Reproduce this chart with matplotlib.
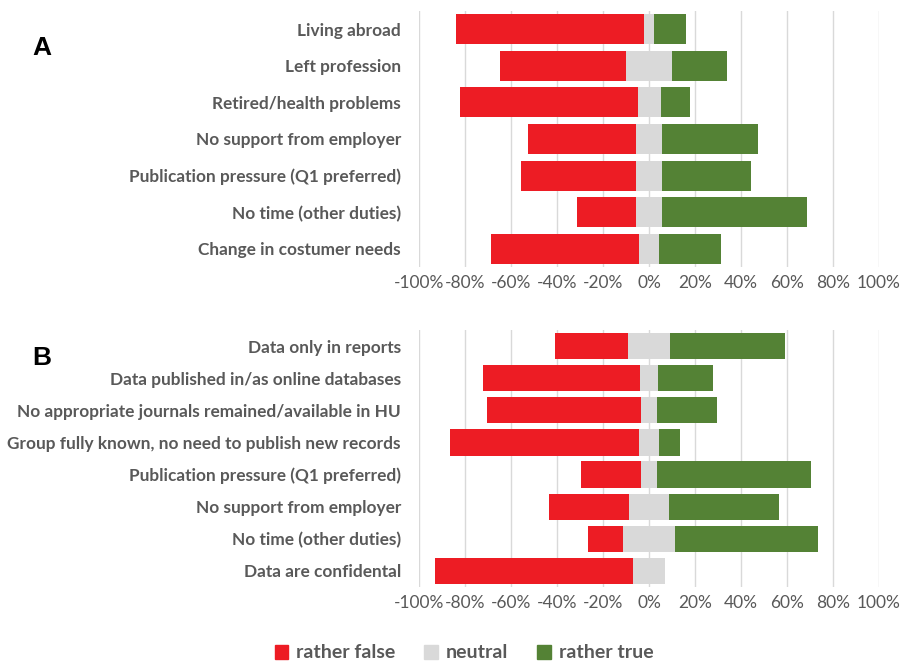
import matplotlib.pyplot as plt
from matplotlib.patches import Patch

# Panel A: reasons for stopping publishing
cats_a = ["Living abroad", "Left profession", "Retired/health problems",
          "No support from employer", "Publication pressure (Q1 preferred)",
          "No time (other duties)", "Change in costumer needs"]
false_a = [82, 55, 77, 47, 50, 26, 64]
neutral_a = [4, 20, 10, 11, 11, 11, 9]
true_a = [14, 24, 13, 42, 39, 63, 27]

# Panel B: reasons for not publishing records
cats_b = ["Data only in reports", "Data published in/as online databases",
          "No appropriate journals remained/available in HU",
          "Group fully known, no need to publish new records",
          "Publication pressure (Q1 preferred)", "No support from employer",
          "No time (other duties)", "Data are confidental"]
false_b = [32, 68, 67, 82, 26, 35, 15, 86]
neutral_b = [18, 8, 7, 9, 7, 17, 23, 14]
true_b = [50, 24, 26, 9, 67, 48, 62, 0]

ticks = [-100, -80, -60, -40, -20, 0, 20, 40, 60, 80, 100]

RED = "#ED1C24"
GREY = "#D9D9D9"
GREEN = "#548235"
TXT = "#595959"
FONT = "Lato"

fig = plt.figure(figsize=(9.08, 6.62), dpi=100)
ax_a = fig.add_axes([0.4615, 0.5967, 0.5066, 0.3867])
ax_b = fig.add_axes([0.4615, 0.1133, 0.5066, 0.3882])


def draw(ax, cats, fals, neut, tru):
    y = list(range(len(cats)))
    left_red = [-(n / 2 + f) for f, n in zip(fals, neut)]
    left_grey = [-n / 2 for n in neut]
    right_grey = [n / 2 for n in neut]
    ax.barh(y, fals, left=left_red, height=0.82, color=RED, zorder=3)
    ax.barh(y, neut, left=left_grey, height=0.82, color=GREY, zorder=3)
    ax.barh(y, tru, left=right_grey, height=0.82, color=GREEN, zorder=3)
    ax.set_xlim(-100, 100)
    ax.set_ylim(len(cats) - 0.5, -0.5)
    ax.set_xticks(ticks)
    ax.set_xticklabels([f"{t}%" for t in ticks], fontsize=12.5,
                       color=TXT, family=FONT)
    ax.set_yticks(y)
    ax.set_yticklabels(cats, fontsize=12.4, color=TXT, family=FONT,
                       fontweight="bold")
    ax.tick_params(length=0, axis="y", pad=13)
    ax.tick_params(length=0, axis="x", pad=6)
    ax.grid(axis="x", color="#D9D9D9", linewidth=1, zorder=0)
    for s in ax.spines.values():
        s.set_visible(False)


draw(ax_a, cats_a, false_a, neutral_a, true_a)
draw(ax_b, cats_b, false_b, neutral_b, true_b)

fig.text(42 / 908, 1 - 48 / 662, "A", fontsize=19, fontweight="bold",
         ha="center", va="center", family="Liberation Sans")
fig.text(42 / 908, 1 - 358 / 662, "B", fontsize=19, fontweight="bold",
         ha="center", va="center", family="Liberation Sans")

handles = [Patch(color=RED, label="rather false"),
           Patch(color=GREY, label="neutral"),
           Patch(color=GREEN, label="rather true")]
leg = fig.legend(handles=handles, loc="center", bbox_to_anchor=(464 / 908, 1 - 653 / 662),
                 ncol=3, frameon=False, handlelength=0.7, handleheight=0.7,
                 handletextpad=0.4, columnspacing=1.5,
                 prop={"family": FONT, "weight": "bold", "size": 14})
for t in leg.get_texts():
    t.set_color(TXT)

fig.savefig("out.png", dpi=100)
